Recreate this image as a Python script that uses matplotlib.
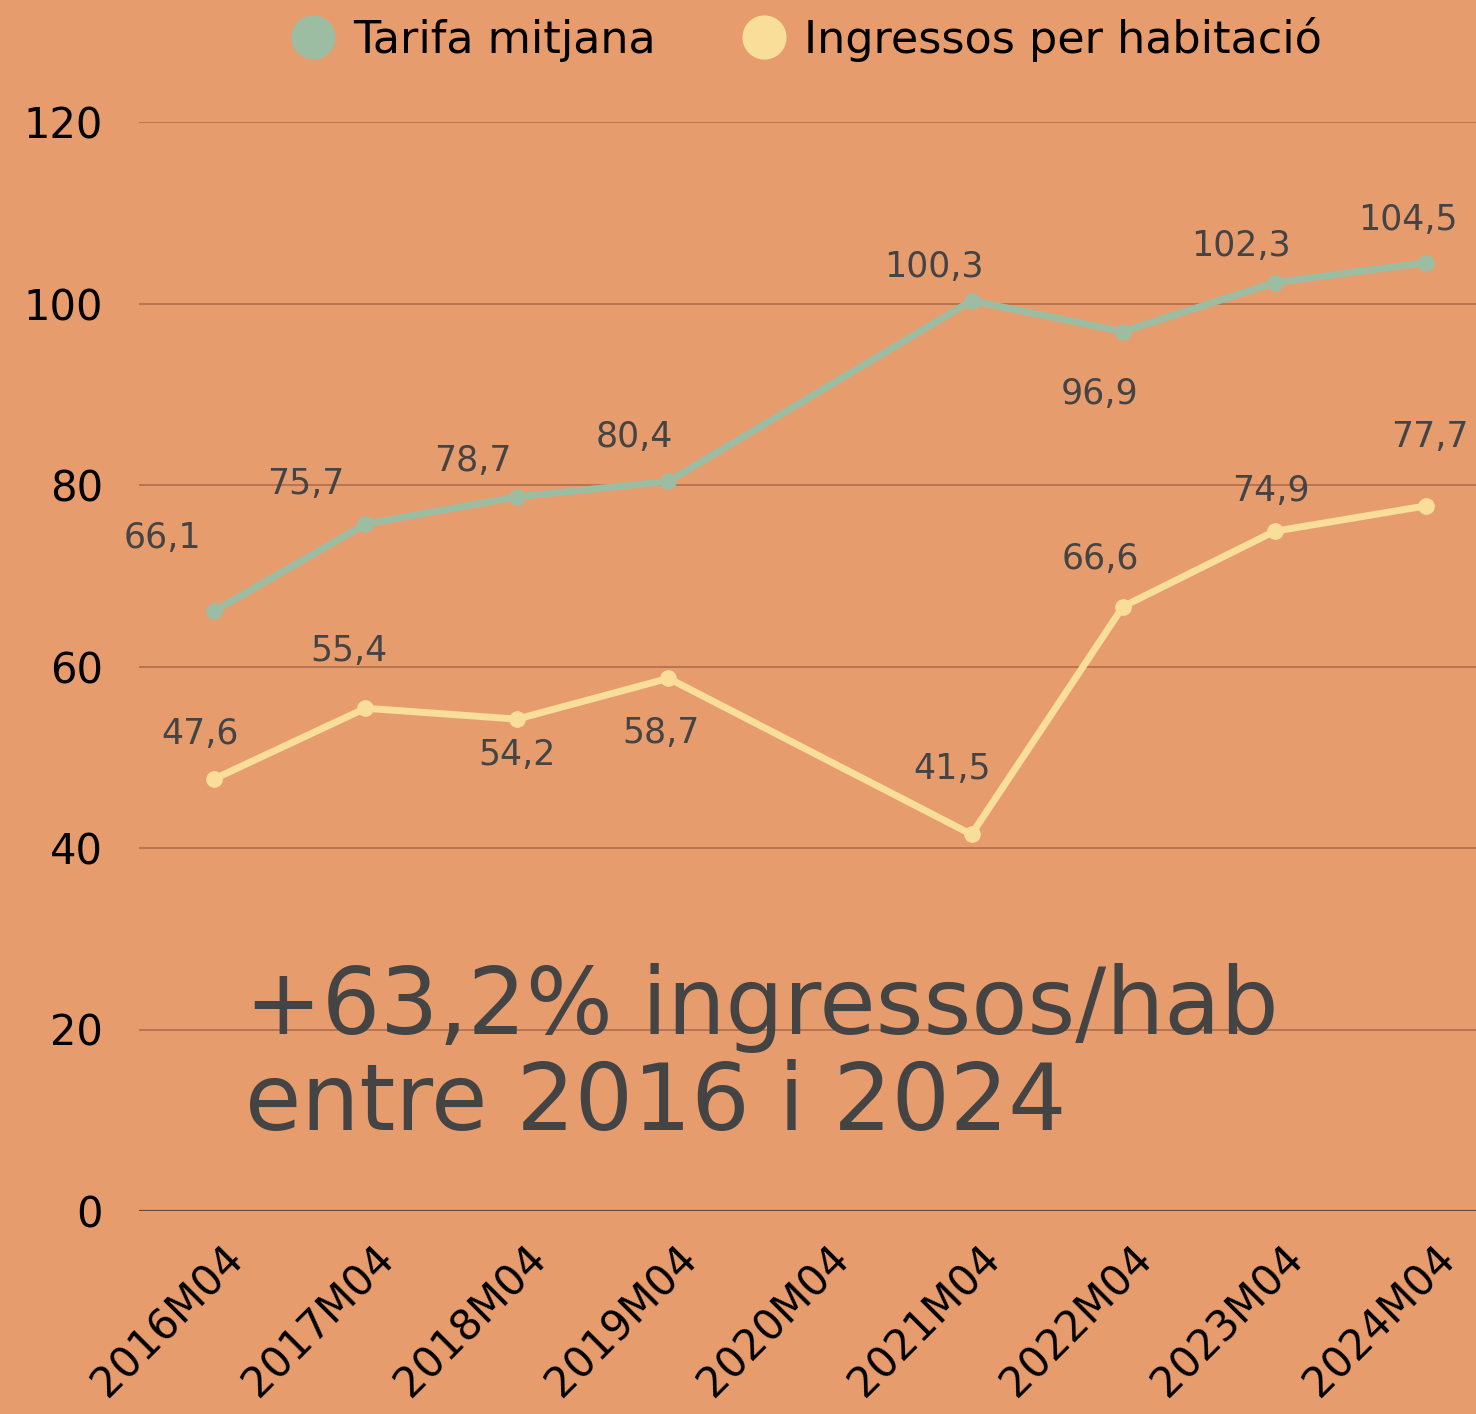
import matplotlib
matplotlib.use("Agg")
import matplotlib.pyplot as plt
import numpy as np

plt.rcParams['font.family'] = ['DejaVu Sans']

periods = ["2016M04", "2017M04", "2018M04", "2019M04", "2020M04",
           "2021M04", "2022M04", "2023M04", "2024M04"]
tarifa = [66.1, 75.7, 78.7, 80.4, None, 100.3, 96.9, 102.3, 104.5]
ingressos = [47.6, 55.4, 54.2, 58.7, None, 41.5, 66.6, 74.9, 77.7]
yticks = [0, 20, 40, 60, 80, 100, 120]
series_names = ["Tarifa mitjana", "Ingressos per habitació"]
headline = "+63,2% ingressos/hab\nentre 2016 i 2024"

# label offsets in pixels (layout only)
off_tarifa = [(-52, 73), (-60, 40), (-44, 36), (-34, 44), None, (-38, 34), (-23, -62), (-34, 37), (-18, 43)]
off_ingr = [(-14, 45), (-17, 57), (0, -36), (-7, -55), None, (-19, 65), (-23, 48), (-4, 40), (4, 69)]

BG = "#E79C6E"
GREEN = "#9DBDA3"
YELLOW = "#F8DE98"
TXT = "#444444"

W, H = 1476, 1414
fig = plt.figure(figsize=(W / 100, H / 100), dpi=100, facecolor=BG)
ax = fig.add_axes([139 / W, (H - 1211) / H, 1 - 139 / W, (1211 - 122) / H])
ax.set_facecolor(BG)

x_all = np.arange(len(periods))

def plot_series(vals, color, name, offs):
    xs = [x for x, v in zip(x_all, vals) if v is not None]
    ys = [v for v in vals if v is not None]
    ax.plot(xs, ys, color=color, lw=5, marker='o', ms=11, mec=color, mfc=color,
            solid_capstyle='round', zorder=3, label=name)
    for x, v, o in zip(x_all, vals, offs):
        if v is None:
            continue
        ax.annotate(f"{v:.1f}".replace('.', ','), (x, v), xytext=o,
                    textcoords='offset pixels', ha='center', va='center',
                    fontsize=25, color=TXT, zorder=4)

plot_series(tarifa, GREEN, series_names[0], off_tarifa)
plot_series(ingressos, YELLOW, series_names[1], off_ingr)

ax.set_ylim(0, 120)
ax.set_xlim(-0.495, 8.33)
ax.set_yticks(yticks)
ax.set_yticklabels([str(t) for t in yticks])
ax.set_xticks(x_all)
ax.set_xticklabels(periods, rotation=45, ha='right', va='top', rotation_mode='anchor')
ax.tick_params(axis='both', length=0, labelsize=30, colors='black')
ax.tick_params(axis='y', pad=26)
ax.tick_params(axis='x', pad=19)
for lab in ax.get_xticklabels():
    lab.set_transform(lab.get_transform() + matplotlib.transforms.ScaledTranslation(8 / 100, 0, fig.dpi_scale_trans))

for t in yticks[1:]:
    ax.axhline(t, color="#B5714F", lw=1.3, zorder=1)
ax.axhline(0, color="#6E4A33", lw=1.6, zorder=1)
for s in ax.spines.values():
    s.set_visible(False)

ax.text(245 / W, (H - 1130) / H, headline, transform=fig.transFigure,
        fontsize=66, color=TXT, ha='left', va='baseline', linespacing=1.08)

leg = ax.legend(loc='center', bbox_to_anchor=(0.5, 1 + (122 - 39) / 1089), ncol=2,
                frameon=False, fontsize=32, handlelength=0.9, handletextpad=0.45,
                columnspacing=2.0, markerscale=2.8)
for h in leg.legend_handles:
    h.set_linestyle('None')

fig.savefig("out.png", dpi=100, facecolor=BG)
